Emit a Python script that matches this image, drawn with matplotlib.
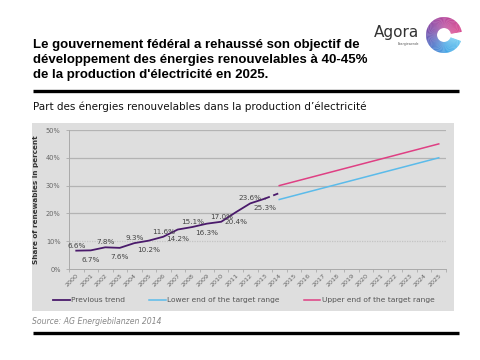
import matplotlib.pyplot as plt
import matplotlib.patches as mpatches
import matplotlib.colors as mcolors
import numpy as np

# --- data ---
years = list(range(2000, 2026))
trend_years = list(range(2000, 2014))
trend_vals = [6.6, 6.7, 7.8, 7.6, 9.3, 10.2, 11.6, 14.2, 15.1, 16.3, 17.0, 20.4, 23.6, 25.3]
est_years = [2013, 2014]
est_vals = [25.3, 27.3]
target_years = [2014, 2025]
lower_vals = [25.0, 40.0]
upper_vals = [30.0, 45.0]
yticks = [0, 10, 20, 30, 40, 50]

title = ("Le gouvernement fédéral a rehaussé son objectif de\n"
         "développement des énergies renouvelables à 40-45%\n"
         "de la production d'électricité en 2025.")
subtitle = "Part des énergies renouvelables dans la production d’électricité"
source = "Source: AG Energiebilanzen 2014"

c_trend = "#4a1a6b"
c_lower = "#5bbbea"
c_upper = "#df3f83"
txt = "#444444"

W, H = 481, 360
fig = plt.figure(figsize=(W / 100, H / 100), dpi=100)

# overlay in pixel coords for panel, rules, titles, logo
ov = fig.add_axes([0, 0, 1, 1], zorder=0)
ov.set_xlim(0, W)
ov.set_ylim(H, 0)
ov.axis("off")

ov.add_patch(mpatches.Rectangle((32, 123), 422, 188, color="#dedede", lw=0))
ov.plot([33, 459], [91, 91], color="black", lw=2.4, solid_capstyle="butt")
ov.plot([33, 459], [333, 333], color="black", lw=2.4, solid_capstyle="butt")
ov.text(33, 60, title, fontsize=9.5, fontweight="bold", family="Liberation Sans",
        va="center", ha="left", linespacing=1.3)
ov.text(33, 107, subtitle, fontsize=7.5, family="DejaVu Sans", va="center", ha="left",
        color="#111111")
ov.text(32, 321, source, fontsize=5.6, style="italic", color="#888888", va="center")

# logo
ov.text(397, 33, "Agora", fontsize=11, color="#333333", ha="center", va="center",
        family="DejaVu Sans")
ov.text(409, 43.5, "Energiewende", fontsize=2.2, color="#555555", ha="center", va="center")
stops = [(10, "#d8458d"), (90, "#b4439a"), (160, "#7a4aa8"), (220, "#4f72c8"),
         (280, "#40a6e6"), (340, "#6cc9f1")]
cx, cy, r_out, r_w = 444, 35, 18, 11
step = 3
for phi in np.arange(10, 340, step):
    for (a0, c0), (a1, c1) in zip(stops[:-1], stops[1:]):
        if a0 <= phi <= a1:
            t = (phi - a0) / (a1 - a0)
            col = (1 - t) * np.array(mcolors.to_rgb(c0)) + t * np.array(mcolors.to_rgb(c1))
            break
    ov.add_patch(mpatches.Wedge((cx, cy), r_out, -(phi + step + 0.5), -phi, width=r_w,
                                color=col, lw=0))

# --- main chart ---
ax = fig.add_axes([69 / W, 1 - 269 / H, 377 / W, 139 / H], zorder=1)
ax.patch.set_alpha(0)

x_of = {y: i for i, y in enumerate(years)}
tx = [x_of[y] for y in trend_years]

for v in yticks[2:]:
    ax.axhline(v, color="#b3b3b3", lw=0.9, zorder=1)
ax.axhline(10, color="#c4c4c4", lw=0.9, ls=(0, (1, 1)), zorder=1)

ax.plot(tx, trend_vals, color=c_trend, lw=1.3, zorder=3)
ax.plot([x_of[y] for y in est_years], est_vals, color=c_trend, lw=1.3, ls=(0, (3, 2)), zorder=3)
ax.plot([x_of[y] for y in target_years], lower_vals, color=c_lower, lw=1.1, zorder=3)
ax.plot([x_of[y] for y in target_years], upper_vals, color=c_upper, lw=1.1, zorder=3)

for i, (x, v) in enumerate(zip(tx, trend_vals)):
    if i % 2 == 0:
        ax.annotate(f"{v:.1f}%", (x, v), xytext=(0, 1.5), textcoords="offset points",
                    ha="center", va="bottom", fontsize=5.2, color=txt)
    else:
        ax.annotate(f"{v:.1f}%", (x, v), xytext=(0, -4.5), textcoords="offset points",
                    ha="center", va="top", fontsize=5.2, color=txt)

ax.set_xlim(-0.5, len(years) - 0.5)
ax.set_ylim(0, 50)
ax.set_yticks(yticks)
ax.set_yticklabels([f"{v}%" for v in yticks], fontsize=4.8, color="#666666")
ax.set_xticks(range(len(years)))
ax.set_xticklabels([str(y) for y in years], rotation=45, ha="right", rotation_mode="anchor",
                   fontsize=4.6, color="#666666")
ax.set_xticks(np.arange(-0.5, len(years)), minor=True)
ax.tick_params(axis="x", which="major", length=0, pad=3)
ax.tick_params(axis="x", which="minor", length=2, color="#aaaaaa", width=0.6)
ax.tick_params(axis="y", length=2, color="#aaaaaa", width=0.6, pad=4)
for s in ["top", "right"]:
    ax.spines[s].set_visible(False)
for s in ["left", "bottom"]:
    ax.spines[s].set_color("#aaaaaa")
    ax.spines[s].set_linewidth(0.7)
ax.set_ylabel("Share of renewables in percent", fontsize=5.2, fontweight="bold",
              color="#333333", labelpad=5)

handles = [plt.Line2D([], [], color=c_trend, lw=1.3),
           plt.Line2D([], [], color=c_lower, lw=1.1),
           plt.Line2D([], [], color=c_upper, lw=1.1)]
labels = ["Previous trend", "Lower end of the target range", "Upper end of the target range"]
fig.legend(handles, labels, loc="center", bbox_to_anchor=(244 / W, 1 - 300 / H), ncol=3,
           frameon=False, fontsize=5.4, handlelength=2.2, handletextpad=0.2,
           columnspacing=3.2, labelcolor="#555555")

fig.savefig("out.png", dpi=100)
